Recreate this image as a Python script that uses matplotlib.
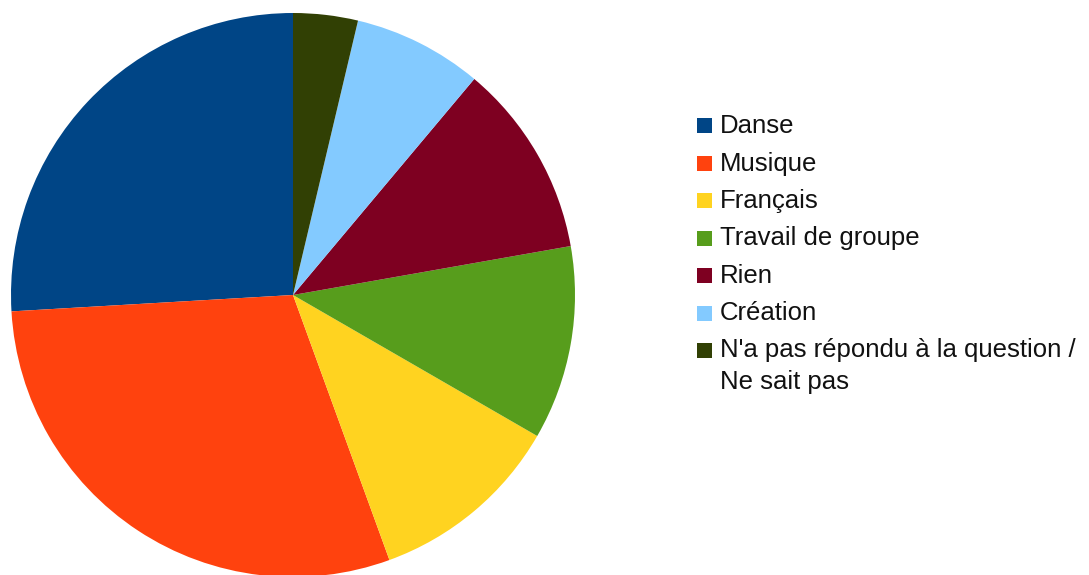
import matplotlib.pyplot as plt
from matplotlib.patches import Rectangle

plt.rcParams['font.family'] = ['Liberation Sans', 'DejaVu Sans']

# Data
labels = ["Danse", "Musique", "Français", "Travail de groupe", "Rien",
          "Création", "N'a pas répondu à la question /\nNe sait pas"]
counts = [7, 8, 3, 3, 3, 2, 1]
colors = ["#004586", "#ff420e", "#ffd320", "#579d1c", "#7e0021",
          "#83caff", "#314004"]

W, H = 1089, 575
fig = plt.figure(figsize=(W / 100, H / 100), dpi=100)

# Pie centred at (293, 295) px, radius 282 px
cx, cy, r = 293, 295, 282
ax = fig.add_axes([(cx - r) / W, (H - cy - r) / H, 2 * r / W, 2 * r / H])
ax.pie(counts, colors=colors, startangle=90, counterclock=True,
       radius=1, wedgeprops=dict(linewidth=0))
ax.set_xlim(-1, 1)
ax.set_ylim(-1, 1)
ax.set_aspect('equal')
ax.axis('off')

# Legend
y0 = 126
step = 37.5
fs = 18.5
for i, (lab, col) in enumerate(zip(labels, colors)):
    y = y0 + i * step
    fig.patches.append(Rectangle((697 / W, (H - y - 7) / H), 15 / W, 15 / H,
                                 facecolor=col, edgecolor='none',
                                 transform=fig.transFigure))
    if '\n' in lab:
        fig.text(720 / W, (H - y + 13) / H, lab, fontsize=fs, va='top',
                 ha='left', color='#111111', linespacing=1.4)
    else:
        fig.text(720 / W, (H - y) / H, lab, fontsize=fs, va='center',
                 ha='left', color='#111111')

fig.savefig("out.png", dpi=100)
